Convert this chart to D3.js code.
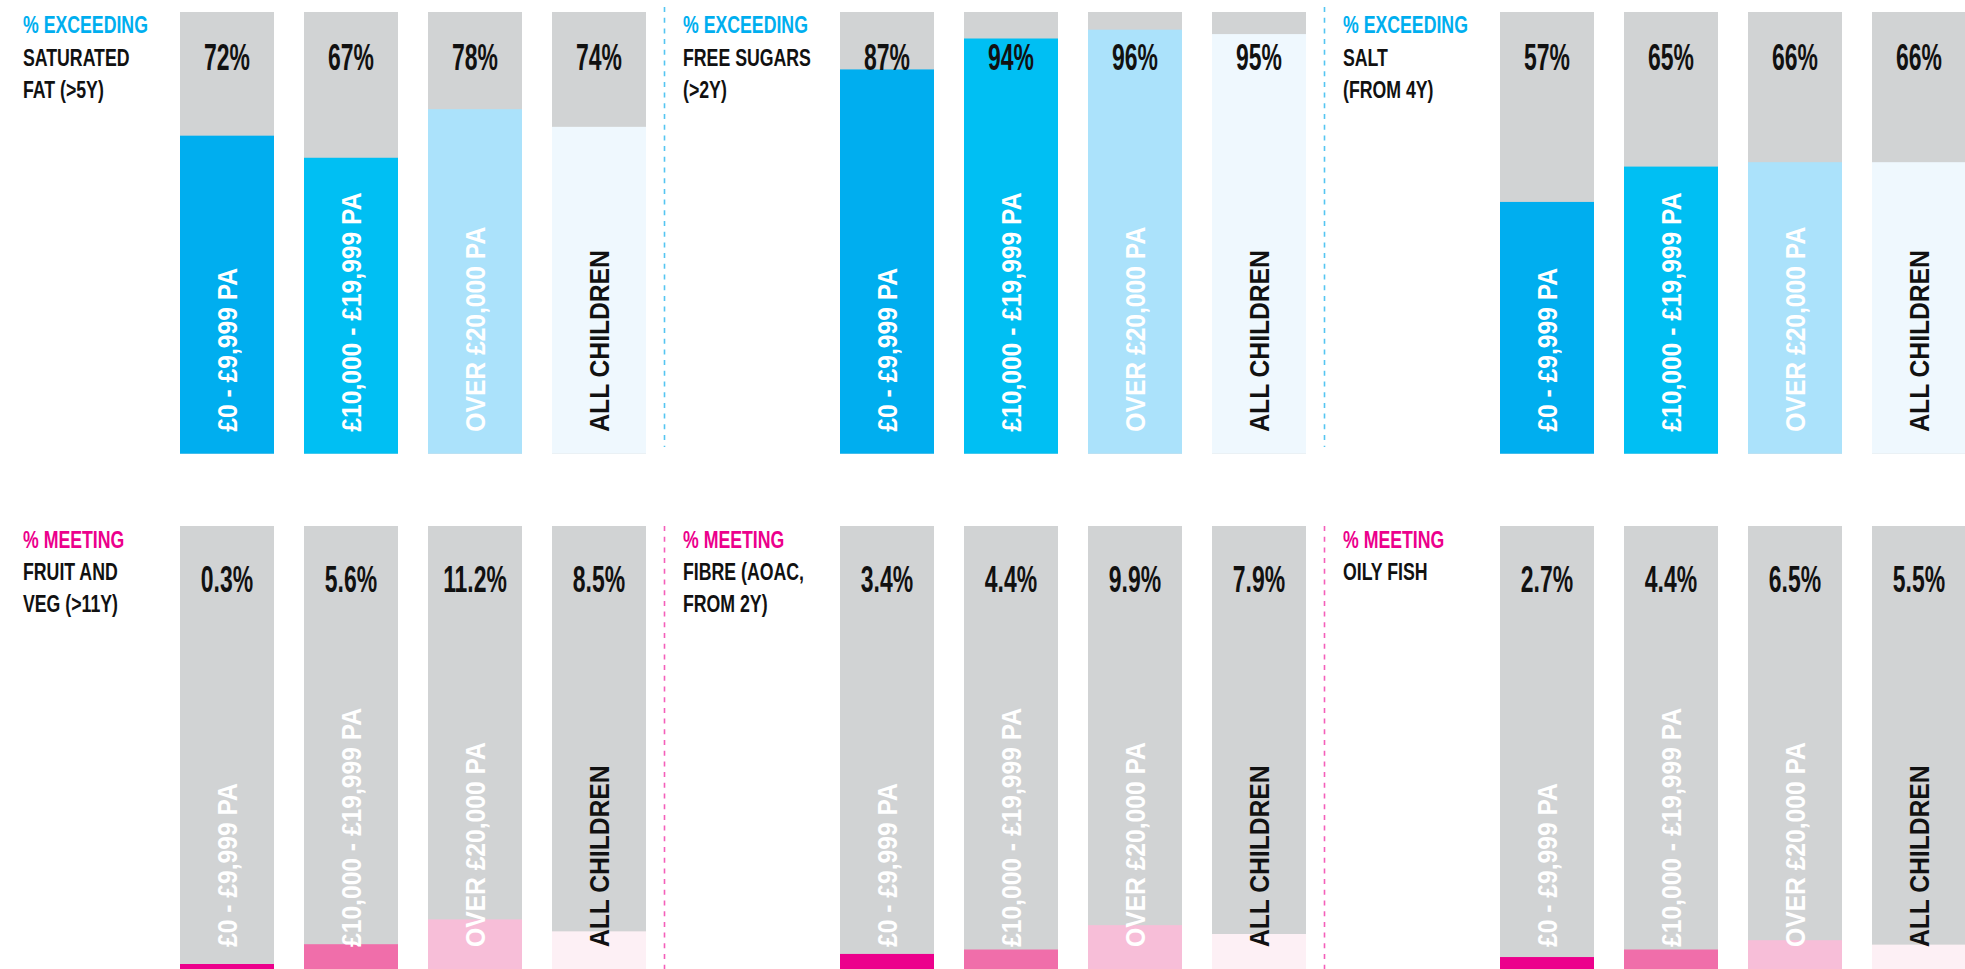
<!DOCTYPE html>
<html>
<head>
<meta charset="utf-8">
<script src="https://cdn.jsdelivr.net/npm/d3@7"></script>
<style>
  html, body { margin: 0; padding: 0; background: #ffffff; }
  svg { display: block; }
  text { font-family: "Liberation Sans", Arial, sans-serif; font-weight: 700; }
</style>
</head>
<body>
<svg id="chart" width="1965" height="969"></svg>
<script>
// ---------------- DATA ----------------
const categories = ["£0 - £9,999 PA", "£10,000 - £19,999 PA", "OVER £20,000 PA", "ALL CHILDREN"];

const exceedingTitles = [["SATURATED", "FAT (>5Y)"], ["FREE SUGARS", "(>2Y)"], ["SALT", "(FROM 4Y)"]];
const exceedingValues = [[72, 67, 78, 74], [87, 94, 96, 95], [57, 65, 66, 66]];

const meetingTitles = [["FRUIT AND", "VEG (>11Y)"], ["FIBRE (AOAC,", "FROM 2Y)"], ["OILY FISH"]];
const meetingValues = [[0.3, 5.6, 11.2, 8.5], [3.4, 4.4, 9.9, 7.9], [2.7, 4.4, 6.5, 5.5]];

const rowHeadings = ["% EXCEEDING", "% MEETING"];

// ---------------- STYLE ----------------
const gray = "#D1D3D4";
const rows = [
  {
    heading: rowHeadings[0], titles: exceedingTitles, values: exceedingValues,
    top: 12, bottom: 453.7, headColor: "#00AEEF", dashColor: "#55C5F1",
    dashTop: 7, dashBottom: 447,
    fills: ["#00AEEF", "#00BFF3", "#ABE2FB", "#EFF8FE"],
    fmt: v => v + "%",
    titleBase: [33, 65.5, 98], valueBase: 70
  },
  {
    heading: rowHeadings[1], titles: meetingTitles, values: meetingValues,
    top: 526, bottom: 969, headColor: "#EC008C", dashColor: "#F45FBA",
    dashTop: 526, dashBottom: 969,
    fills: ["#EC008C", "#F06EAA", "#F7BED8", "#FDF0F5"],
    fmt: v => d3.format(".1f")(v) + "%",
    titleBase: [548, 580, 612], valueBase: 592
  }
];
const labelColors = ["#ffffff", "#ffffff", "#ffffff", "#111111"];
const textColor = "#111111";

const svg = d3.select("#chart");

// panel positions
const panelScale = d3.scaleBand().domain(d3.range(3)).range([0, 1980]).paddingInner(0).paddingOuter(0);
// bars within a panel
const xBar = d3.scaleBand().domain(categories).range([180, 646]).paddingInner(30 / 124).paddingOuter(0);

rows.forEach((row) => {
  const y = d3.scaleLinear().domain([0, 100]).range([row.bottom, row.top]);

  row.values.forEach((vals, pi) => {
    const px = panelScale(pi);
    const g = svg.append("g").attr("transform", `translate(${px},0)`);

    // separator dashed line (not for the first panel)
    if (pi > 0) {
      g.append("line")
        .attr("x1", 4.5).attr("x2", 4.5)
        .attr("y1", row.dashTop).attr("y2", row.dashBottom)
        .attr("stroke", row.dashColor)
        .attr("stroke-width", 1.6)
        .attr("stroke-dasharray", "5,5.7");
    }

    // headings
    const lines = [row.heading].concat(row.titles[pi]);
    lines.forEach((ln, li) => {
      g.append("text")
        .attr("transform", `translate(23,${row.titleBase[li]}) scale(0.77,1)`)
        .attr("font-size", 23)
        .attr("fill", li === 0 ? row.headColor : textColor)
        .text(ln);
    });

    const data = categories.map((c, i) => ({ cat: c, v: vals[i], i }));
    const cx = d => xBar(d.cat) + xBar.bandwidth() / 2;

    // background (full 100%) bars
    g.selectAll("rect.bg").data(data).join("rect")
      .attr("class", "bg")
      .attr("x", d => xBar(d.cat))
      .attr("width", xBar.bandwidth())
      .attr("y", y(100))
      .attr("height", y(0) - y(100))
      .attr("fill", gray);

    // value bars (minimum visible height of 5px)
    g.selectAll("rect.val").data(data).join("rect")
      .attr("class", "val")
      .attr("x", d => xBar(d.cat))
      .attr("width", xBar.bandwidth())
      .attr("y", d => Math.min(y(d.v), y(0) - 5))
      .attr("height", d => Math.max(y(0) - y(d.v), 5))
      .attr("fill", d => row.fills[d.i]);

    // value labels
    g.selectAll("text.vl").data(data).join("text")
      .attr("class", "vl")
      .attr("transform", d => `translate(${cx(d)},${row.valueBase}) scale(0.62,1)`)
      .attr("text-anchor", "middle")
      .attr("font-size", 37)
      .attr("fill", textColor)
      .text(d => row.fmt(d.v));

    // rotated category labels
    const fs = 28;
    g.selectAll("text.cl").data(data).join("text")
      .attr("class", "cl")
      .attr("transform", d => `translate(${cx(d)},${y(0) - 22}) rotate(-90) scale(0.88,1)`)
      .attr("x", 0)
      .attr("y", fs * 0.36)
      .attr("text-anchor", "start")
      .attr("font-size", fs)
      .attr("fill", d => labelColors[d.i])
      .text(d => d.cat);
  });
});
</script>
</body>
</html>
